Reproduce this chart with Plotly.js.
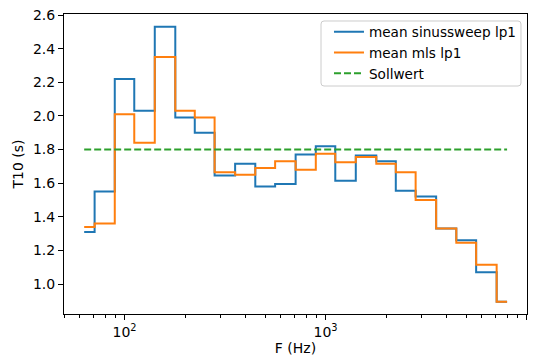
<!DOCTYPE html>
<html>
<head>
<meta charset="utf-8">
<script src="https://cdn.plot.ly/plotly-3.0.1.min.js"></script>
<style>html,body{margin:0;padding:0;background:#fff;}#chart{width:537px;height:359px;}</style>
</head>
<body>
<div id="chart"></div>
<script>
// Third-octave band centre frequencies (Hz)
var bands = [63, 80, 100, 125, 160, 200, 250, 315, 400, 500, 630, 800, 1000, 1250, 1600, 2000, 2500, 3150, 4000, 5000, 6300, 8000];
// mean T10 (s), sine sweep, lp1
var sinussweep = [1.31, 1.55, 2.22, 2.03, 2.53, 1.99, 1.90, 1.645, 1.715, 1.58, 1.595, 1.77, 1.82, 1.615, 1.765, 1.73, 1.555, 1.52, 1.33, 1.26, 1.07, 0.895];
// mean T10 (s), MLS, lp1
var mls = [1.34, 1.36, 2.01, 1.84, 2.35, 2.03, 1.99, 1.665, 1.65, 1.69, 1.73, 1.68, 1.775, 1.725, 1.755, 1.715, 1.665, 1.50, 1.33, 1.245, 1.115, 0.895];
// target value (s)
var sollwert = 1.8;
var seriesNames = ["mean sinussweep lp1", "mean mls lp1", "Sollwert"];
var majorTicks = [100, 1000, 10000];
var majorText = ["10<sup>2</sup>", "10<sup>3</sup>", "10<sup>4</sup>"];

var minorTicks = [];
[10, 100, 1000].forEach(function (d) {
  for (var k = 2; k <= 9; k++) minorTicks.push(k * d);
});

var FS = 14;
var traces = [
  {x: bands, y: sinussweep, name: seriesNames[0], type: "scatter", mode: "lines",
   line: {color: "#1f77b4", width: 2, shape: "hvh"}},
  {x: bands, y: mls, name: seriesNames[1], type: "scatter", mode: "lines",
   line: {color: "#ff7f0e", width: 2, shape: "hvh"}},
  {x: [bands[0], bands[bands.length - 1]], y: [sollwert, sollwert], name: seriesNames[2],
   type: "scatter", mode: "lines", line: {color: "#2ca02c", width: 2, dash: "7px,3px"}}
];

var axisCommon = {
  showline: true, mirror: true, linecolor: "#000", linewidth: 1,
  ticks: "outside", ticklen: 5, tickwidth: 1, tickcolor: "#000",
  showgrid: false, zeroline: false,
  tickfont: {family: "DejaVu Sans", size: FS, color: "#000"}
};

// rounded legend frame (paper coordinates)
var bx0 = 0.5551, bx1 = 0.9870, by0 = 0.760, by1 = 0.9767, rx = 0.0065, ry = 0.010;
var framePath = "M " + (bx0 + rx) + "," + by1 +
  " L " + (bx1 - rx) + "," + by1 + " Q " + bx1 + "," + by1 + " " + bx1 + "," + (by1 - ry) +
  " L " + bx1 + "," + (by0 + ry) + " Q " + bx1 + "," + by0 + " " + (bx1 - rx) + "," + by0 +
  " L " + (bx0 + rx) + "," + by0 + " Q " + bx0 + "," + by0 + " " + bx0 + "," + (by0 + ry) +
  " L " + bx0 + "," + (by1 - ry) + " Q " + bx0 + "," + by1 + " " + (bx0 + rx) + "," + by1 + " Z";

var layout = {
  width: 537, height: 359,
  margin: {l: 64, r: 10, t: 14, b: 45, pad: 0},
  paper_bgcolor: "#fff", plot_bgcolor: "#fff",
  font: {family: "DejaVu Sans", size: FS, color: "#000"},
  showlegend: true,
  legend: {
    x: 0.987, y: 0.9917, xanchor: "right", yanchor: "top",
    bgcolor: "rgba(0,0,0,0)", borderwidth: 0,
    font: {family: "DejaVu Sans", size: 13.6, color: "#000"},
    itemwidth: 30, tracegroupgap: 0
  },
  shapes: [{type: "path", xref: "paper", yref: "paper", path: framePath,
            fillcolor: "rgba(255,255,255,0.8)", line: {color: "#cccccc", width: 1}, layer: "above"}],
  xaxis: Object.assign({}, axisCommon, {
    type: "log", range: [Math.log10(50), Math.log10(10050)],
    tickmode: "array", tickvals: majorTicks, ticktext: majorText,
    minor: {tickmode: "array", tickvals: minorTicks, ticklen: 3, tickwidth: 1, tickcolor: "#000", showgrid: false},
    title: {text: "F (Hz)", font: {family: "DejaVu Sans", size: FS, color: "#000"}, standoff: 4}
  }),
  yaxis: Object.assign({}, axisCommon, {
    range: [0.822, 2.606], tickmode: "linear", tick0: 1.0, dtick: 0.2, tickformat: ".1f",
    title: {text: "T10 (s)", font: {family: "DejaVu Sans", size: FS, color: "#000"}, standoff: 6}
  })
};

Plotly.newPlot("chart", traces, layout, {displayModeBar: false, staticPlot: true});
</script>
</body>
</html>
